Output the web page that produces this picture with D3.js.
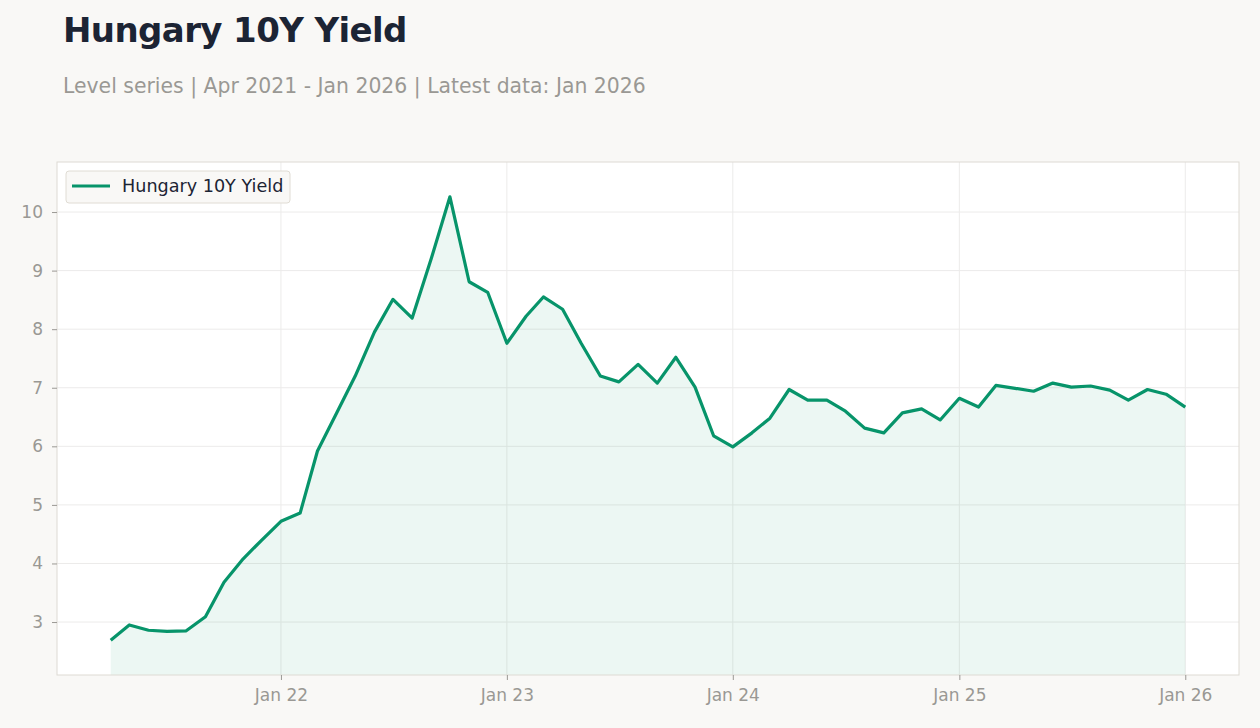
<!DOCTYPE html>
<html>
<head>
<meta charset="utf-8">
<script src="https://cdn.jsdelivr.net/npm/d3@7"></script>
<style>
  body { margin: 0; background: #f9f8f6; font-family: "DejaVu Sans", sans-serif; }
  svg text { font-family: "DejaVu Sans", sans-serif; }
</style>
</head>
<body>
<div id="chart"></div>
<script>
// size of the picture
var svgWidth = 1260;
var svgHeight = 728;

// plot area edges
var margin = { top: 162, right: 21, bottom: 53, left: 57 };
var chartWidth = svgWidth - margin.left - margin.right;
var chartHeight = svgHeight - margin.top - margin.bottom;

// monthly data, Apr 2021 - Jan 2026
var months = [
  "2021-04","2021-05","2021-06","2021-07","2021-08","2021-09","2021-10","2021-11","2021-12",
  "2022-01","2022-02","2022-03","2022-04","2022-05","2022-06","2022-07","2022-08","2022-09","2022-10","2022-11","2022-12",
  "2023-01","2023-02","2023-03","2023-04","2023-05","2023-06","2023-07","2023-08","2023-09","2023-10","2023-11","2023-12",
  "2024-01","2024-02","2024-03","2024-04","2024-05","2024-06","2024-07","2024-08","2024-09","2024-10","2024-11","2024-12",
  "2025-01","2025-02","2025-03","2025-04","2025-05","2025-06","2025-07","2025-08","2025-09","2025-10","2025-11","2025-12",
  "2026-01"
];
var yields = [
  2.69, 2.95, 2.86, 2.84, 2.85, 3.09, 3.68, 4.08, 4.40,
  4.72, 4.86, 5.92, 6.57, 7.20, 7.95, 8.51, 8.19, 9.21, 10.26, 8.81, 8.63,
  7.76, 8.22, 8.55, 8.34, 7.76, 7.20, 7.10, 7.40, 7.08, 7.52, 7.01, 6.18,
  5.99, 6.23, 6.48, 6.97, 6.79, 6.79, 6.60, 6.31, 6.23, 6.57, 6.64, 6.45,
  6.82, 6.67, 7.04, 6.99, 6.94, 7.08, 7.01, 7.03, 6.96, 6.79, 6.97, 6.89,
  6.67
];
var yTicks = [3, 4, 5, 6, 7, 8, 9, 10];
var xTicks = ["2022-01", "2023-01", "2024-01", "2025-01", "2026-01"];
var seriesName = "Hungary 10Y Yield";

var parseMonth = d3.timeParse("%Y-%m");
var data = months.map(function(m, i) { return { date: parseMonth(m), value: yields[i] }; });

var lineColor = "#07946a";

var svg = d3.select("#chart").append("svg")
  .attr("width", svgWidth).attr("height", svgHeight);

svg.append("rect").attr("width", svgWidth).attr("height", svgHeight).attr("fill", "#f9f8f6");

// titles
svg.append("text").attr("x", 63).attr("y", 42)
  .attr("font-size", 34).attr("font-weight", "bold").attr("fill", "#1c2434")
  .attr("letter-spacing", -0.6)
  .text("Hungary 10Y Yield");
svg.append("text").attr("x", 63).attr("y", 93)
  .attr("font-size", 20.4).attr("fill", "#9a9894")
  .text("Level series | Apr 2021 - Jan 2026 | Latest data: Jan 2026");

var chartGroup = svg.append("g").attr("transform", `translate(${margin.left}, ${margin.top})`);

// scales, with 5% padding on both
var xExtent = d3.extent(data, d => d.date);
var xPad = (xExtent[1] - xExtent[0]) * 0.05;
var xScale = d3.scaleTime()
  .domain([new Date(+xExtent[0] - xPad), new Date(+xExtent[1] + xPad)])
  .range([0, chartWidth]);

var yExtent = d3.extent(data, d => d.value);
var yPad = (yExtent[1] - yExtent[0]) * 0.0785;
var yScale = d3.scaleLinear()
  .domain([yExtent[0] - yPad, yExtent[1] + yPad])
  .range([chartHeight, 0]);

// plot background
chartGroup.append("rect").attr("width", chartWidth).attr("height", chartHeight).attr("fill", "#ffffff");

// grid
chartGroup.append("g").selectAll("line").data(yTicks).enter().append("line")
  .attr("x1", 0).attr("x2", chartWidth)
  .attr("y1", d => yScale(d)).attr("y2", d => yScale(d))
  .attr("stroke", "#ecebea").attr("stroke-width", 1);
chartGroup.append("g").selectAll("line").data(xTicks).enter().append("line")
  .attr("x1", d => xScale(parseMonth(d))).attr("x2", d => xScale(parseMonth(d)))
  .attr("y1", 0).attr("y2", chartHeight)
  .attr("stroke", "#ecebea").attr("stroke-width", 1);

// area + line
var area = d3.area().x(d => xScale(d.date)).y0(chartHeight).y1(d => yScale(d.value));
chartGroup.append("path").datum(data).attr("d", area)
  .attr("fill", lineColor).attr("fill-opacity", 0.08);

var line = d3.line().x(d => xScale(d.date)).y(d => yScale(d.value));
chartGroup.append("path").datum(data).attr("d", line)
  .attr("fill", "none").attr("stroke", lineColor).attr("stroke-width", 3.2)
  .attr("stroke-linejoin", "round");

// plot border
chartGroup.append("rect").attr("width", chartWidth).attr("height", chartHeight)
  .attr("fill", "none").attr("stroke", "#dedad3").attr("stroke-width", 1);

// axes
var bottomAxis = d3.axisBottom(xScale)
  .tickValues(xTicks.map(parseMonth))
  .tickFormat(d3.timeFormat("%b %y"))
  .tickSize(5).tickPadding(9);
var xAxis = chartGroup.append("g").attr("transform", `translate(0, ${chartHeight})`).call(bottomAxis);

var leftAxis = d3.axisLeft(yScale).tickValues(yTicks).tickSize(5).tickPadding(9);
var yAxis = chartGroup.append("g").call(leftAxis);

[xAxis, yAxis].forEach(function(ax) {
  ax.select(".domain").remove();
  ax.selectAll(".tick line").attr("stroke", "#9a9894");
  ax.selectAll(".tick text").attr("fill", "#9a9894").attr("font-size", 17)
    .attr("font-family", "DejaVu Sans, sans-serif");
});

// legend
var legend = chartGroup.append("g").attr("transform", "translate(9, 9)");
legend.append("rect").attr("width", 224).attr("height", 32).attr("rx", 3)
  .attr("fill", "#f9f8f6").attr("stroke", "#e0dcd4");
legend.append("line").attr("x1", 6).attr("x2", 44).attr("y1", 15).attr("y2", 15)
  .attr("stroke", lineColor).attr("stroke-width", 3);
legend.append("text").attr("x", 56).attr("y", 21)
  .attr("font-size", 17.6).attr("fill", "#1c2434")
  .text(seriesName);
</script>
</body>
</html>
